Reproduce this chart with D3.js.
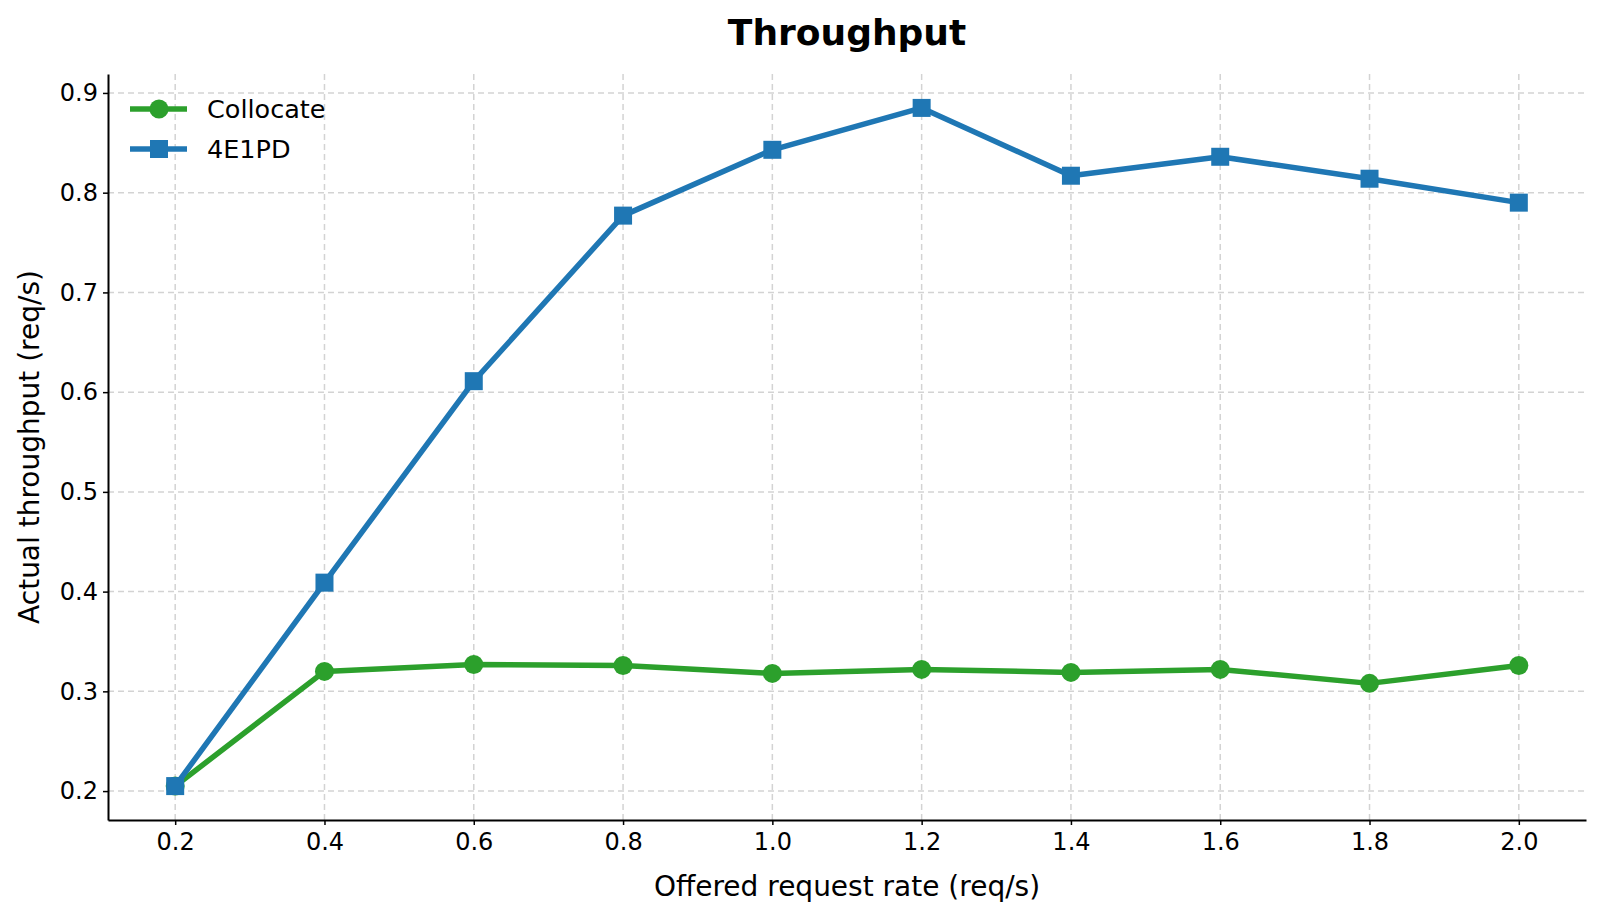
<!DOCTYPE html>
<html>
<head>
<meta charset="utf-8">
<script src="https://cdn.jsdelivr.net/npm/d3@7"></script>
<style>
  html, body { margin: 0; padding: 0; background: #fff; }
  text { font-family: "DejaVu Sans", sans-serif; fill: #000; }
</style>
</head>
<body>
<div id="chart"></div>
<script>
// --- data ---
const rates = [0.2, 0.4, 0.6, 0.8, 1.0, 1.2, 1.4, 1.6, 1.8, 2.0];
const collocate = [0.205, 0.320, 0.327, 0.326, 0.318, 0.322, 0.319, 0.322, 0.308, 0.326];
const e4pd = [0.205, 0.409, 0.611, 0.777, 0.843, 0.885, 0.817, 0.836, 0.814, 0.790];
const xTicks = [0.2, 0.4, 0.6, 0.8, 1.0, 1.2, 1.4, 1.6, 1.8, 2.0];
const yTicks = [0.2, 0.3, 0.4, 0.5, 0.6, 0.7, 0.8, 0.9];
const seriesNames = ["Collocate", "4E1PD"];

const W = 1602, H = 918;
const margin = { top: 74, right: 16, bottom: 98, left: 108 };
const innerW = W - margin.left - margin.right;
const innerH = H - margin.top - margin.bottom;

const series = [
  { name: seriesNames[0], values: collocate, color: "#2ca02c", marker: "circle" },
  { name: seriesNames[1], values: e4pd, color: "#1f77b4", marker: "square" }
];

// matplotlib style 5% padding
function padded(ext) {
  const d = (ext[1] - ext[0]) * 0.05;
  return [ext[0] - d, ext[1] + d];
}
const allY = collocate.concat(e4pd);

const x = d3.scaleLinear().domain(padded(d3.extent(rates))).range([0, innerW]);
const y = d3.scaleLinear().domain(padded(d3.extent(allY))).range([innerH, 0]);

const svg = d3.select("#chart").append("svg")
  .attr("width", W).attr("height", H);

const g = svg.append("g").attr("transform", `translate(${margin.left},${margin.top})`);

// grid
g.append("g").selectAll("line").data(xTicks).join("line")
  .attr("x1", d => x(d)).attr("x2", d => x(d))
  .attr("y1", 0).attr("y2", innerH)
  .attr("stroke", "#d3d3d3").attr("stroke-width", 1.5).attr("stroke-dasharray", "6,4");
g.append("g").selectAll("line").data(yTicks).join("line")
  .attr("x1", 0).attr("x2", innerW)
  .attr("y1", d => y(d)).attr("y2", d => y(d))
  .attr("stroke", "#d3d3d3").attr("stroke-width", 1.5).attr("stroke-dasharray", "6,4");

// axes
const xAxis = g.append("g").attr("transform", `translate(0,${innerH})`)
  .call(d3.axisBottom(x).tickValues(xTicks).tickFormat(d3.format(".1f")).tickSize(5).tickPadding(8).tickSizeOuter(0));
const yAxis = g.append("g")
  .call(d3.axisLeft(y).tickValues(yTicks).tickFormat(d3.format(".1f")).tickSize(5).tickPadding(5).tickSizeOuter(0));
[xAxis, yAxis].forEach(a => {
  a.select(".domain").attr("stroke", "#000").attr("stroke-width", 2);
  a.selectAll(".tick line").attr("stroke", "#000").attr("stroke-width", 1.5);
  a.selectAll(".tick text").attr("font-size", 24).attr("font-family", "DejaVu Sans");
});

// lines + markers
const line = d3.line().x((d, i) => x(rates[i])).y(d => y(d));
series.forEach(s => {
  g.append("path").datum(s.values)
    .attr("fill", "none").attr("stroke", s.color).attr("stroke-width", 5.5)
    .attr("stroke-linejoin", "round").attr("d", line);
  const m = g.append("g");
  if (s.marker === "circle") {
    m.selectAll("circle").data(s.values).join("circle")
      .attr("cx", (d, i) => x(rates[i])).attr("cy", d => y(d)).attr("r", 9.5)
      .attr("fill", s.color);
  } else {
    m.selectAll("rect").data(s.values).join("rect")
      .attr("x", (d, i) => x(rates[i]) - 9).attr("y", d => y(d) - 9)
      .attr("width", 18).attr("height", 18).attr("fill", s.color);
  }
});

// legend
const legend = svg.append("g").attr("transform", "translate(130,109)");
series.forEach((s, i) => {
  const row = legend.append("g").attr("transform", `translate(0,${i * 40})`);
  row.append("line").attr("x1", 0).attr("x2", 57).attr("y1", 0).attr("y2", 0)
    .attr("stroke", s.color).attr("stroke-width", 5.5);
  if (s.marker === "circle") {
    row.append("circle").attr("cx", 29).attr("cy", 0).attr("r", 9.5).attr("fill", s.color);
  } else {
    row.append("rect").attr("x", 20).attr("y", -9).attr("width", 18).attr("height", 18).attr("fill", s.color);
  }
  row.append("text").attr("x", 77).attr("y", 0).attr("dy", "0.35em")
    .attr("font-size", 25.5).text(s.name);
});

// title + axis labels
svg.append("text").attr("x", margin.left + innerW / 2).attr("y", 45)
  .attr("text-anchor", "middle").attr("font-size", 36).attr("font-weight", "bold")
  .text("Throughput");
svg.append("text").attr("x", margin.left + innerW / 2).attr("y", 896)
  .attr("text-anchor", "middle").attr("font-size", 28)
  .text("Offered request rate (req/s)");
svg.append("text").attr("transform", `translate(39,${margin.top + innerH / 2}) rotate(-90)`)
  .attr("text-anchor", "middle").attr("font-size", 28)
  .text("Actual throughput (req/s)");
</script>
</body>
</html>
